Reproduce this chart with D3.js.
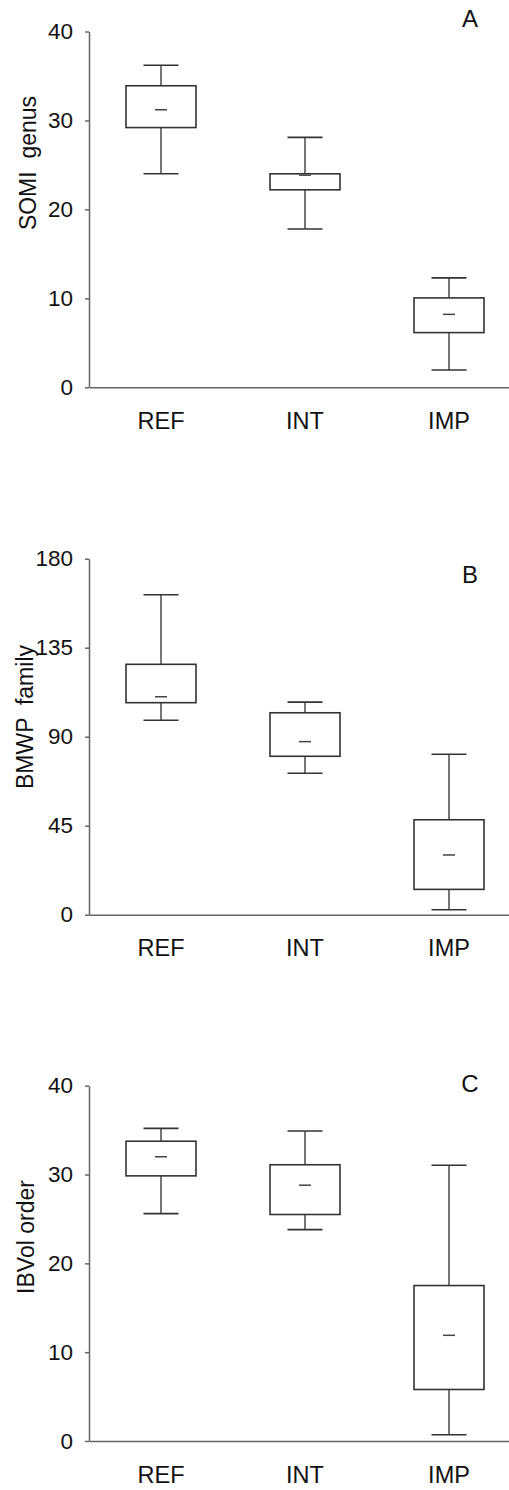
<!DOCTYPE html>
<html>
<head>
    <title>Box plots</title>
    <script src="https://cdnjs.cloudflare.com/ajax/libs/d3/7.8.5/d3.min.js"></script>
    <style>
        body { margin: 0; background: #fff; }
        svg { display: block; font-family: "Liberation Sans", Arial, sans-serif; }
    </style>
</head>
<body>
    <div id="chart"></div>

    <script>
        // data (whisker low, Q1, middle mark, Q3, whisker high)
        var categories = ["REF", "INT", "IMP"];

        var somiLow  = [24.0, 17.8, 1.95];
        var somiQ1   = [29.2, 22.2, 6.15];
        var somiMid  = [31.2, 23.85, 8.2];
        var somiQ3   = [33.9, 24.0, 10.05];
        var somiHigh = [36.2, 28.1, 12.3];
        var somiTicks = [0, 10, 20, 30, 40];

        var bmwpLow  = [98.3, 71.5, 2.5];
        var bmwpQ1   = [107.2, 80.1, 12.8];
        var bmwpMid  = [110.2, 87.5, 30.2];
        var bmwpQ3   = [126.6, 102.1, 48.0];
        var bmwpHigh = [161.8, 107.5, 81.1];
        var bmwpTicks = [0, 45, 90, 135, 180];

        var ibvolLow  = [25.6, 23.8, 0.7];
        var ibvolQ1   = [29.85, 25.5, 5.8];
        var ibvolMid  = [32.0, 28.8, 11.9];
        var ibvolQ3   = [33.75, 31.1, 17.5];
        var ibvolHigh = [35.2, 34.9, 31.05];
        var ibvolTicks = [0, 10, 20, 30, 40];

        var width = 509, height = 1490;
        var axisX = 89;

        var svg = d3.select("#chart")
            .append("svg")
            .attr("width", width)
            .attr("height", height);

        var x = d3.scaleBand()
            .domain(categories)
            .range([axisX, 521])
            .padding(0);

        var boxW = 70, capW = 35, midW = 12;

        function buildRows(low, q1, mid, q3, high) {
            return categories.map(function(c, i) {
                return { cat: c, low: low[i], q1: q1[i], mid: mid[i], q3: q3[i], high: high[i] };
            });
        }

        function drawPanel(opt) {
            var y = d3.scaleLinear()
                .domain([0, opt.ticks[opt.ticks.length - 1]])
                .range([opt.bottom, opt.top]);

            var g = svg.append("g");

            // y axis
            var yAxis = g.append("g")
                .attr("transform", "translate(" + axisX + ",0)")
                .call(d3.axisLeft(y)
                    .tickValues(opt.ticks)
                    .tickSize(4)
                    .tickSizeOuter(0)
                    .tickPadding(12));
            yAxis.selectAll("text")
                .style("font-size", "22.5px")
                .attr("fill", "#111");
            yAxis.selectAll("line, path")
                .attr("stroke", "#666")
                .attr("stroke-width", 1.5);

            // x axis
            var xAxis = g.append("g")
                .attr("transform", "translate(0," + y(0) + ")")
                .call(d3.axisBottom(x).tickSize(0).tickPadding(25).tickSizeOuter(0));
            xAxis.selectAll("text")
                .style("font-size", "23.5px")
                .attr("fill", "#111");
            xAxis.select("path")
                .attr("stroke", "#666")
                .attr("stroke-width", 1.5);

            var rows = buildRows(opt.low, opt.q1, opt.mid, opt.q3, opt.high);
            var box = g.selectAll(".box")
                .data(rows)
                .enter().append("g")
                .attr("class", "box")
                .attr("transform", function(d) { return "translate(" + (x(d.cat) + x.bandwidth() / 2) + ",0)"; });

            // whisker stems
            box.append("line")
                .attr("x1", 0).attr("x2", 0)
                .attr("y1", function(d) { return y(d.high); })
                .attr("y2", function(d) { return y(d.q3); })
                .attr("stroke", "#555").attr("stroke-width", 1.6);
            box.append("line")
                .attr("x1", 0).attr("x2", 0)
                .attr("y1", function(d) { return y(d.q1); })
                .attr("y2", function(d) { return y(d.low); })
                .attr("stroke", "#555").attr("stroke-width", 1.6);

            // caps
            box.append("line")
                .attr("x1", -capW / 2).attr("x2", capW / 2)
                .attr("y1", function(d) { return y(d.high); })
                .attr("y2", function(d) { return y(d.high); })
                .attr("stroke", "#333").attr("stroke-width", 1.6);
            box.append("line")
                .attr("x1", -capW / 2).attr("x2", capW / 2)
                .attr("y1", function(d) { return y(d.low); })
                .attr("y2", function(d) { return y(d.low); })
                .attr("stroke", "#333").attr("stroke-width", 1.6);

            // box
            box.append("rect")
                .attr("x", -boxW / 2)
                .attr("width", boxW)
                .attr("y", function(d) { return y(d.q3); })
                .attr("height", function(d) { return y(d.q1) - y(d.q3); })
                .attr("fill", "#fff")
                .attr("stroke", "#333")
                .attr("stroke-width", 1.6);

            // middle mark
            box.append("line")
                .attr("x1", -midW / 2).attr("x2", midW / 2)
                .attr("y1", function(d) { return y(d.mid); })
                .attr("y2", function(d) { return y(d.mid); })
                .attr("stroke", "#444").attr("stroke-width", 1.5);

            // axis title
            g.append("text")
                .attr("transform", "translate(" + opt.titleX + "," + opt.titleY + ") rotate(-90)")
                .attr("dy", "0.35em")
                .style("text-anchor", "middle")
                .style("font-size", "23px")
                .style("white-space", "pre")
                .attr("fill", "#111")
                .text(opt.title);

            // panel letter
            g.append("text")
                .attr("x", 470)
                .attr("y", opt.letterY)
                .style("text-anchor", "middle")
                .style("font-size", "24px")
                .attr("fill", "#111")
                .text(opt.letter);
        }

        drawPanel({ top: 31.5, bottom: 387.3, ticks: somiTicks, low: somiLow, q1: somiQ1, mid: somiMid, q3: somiQ3, high: somiHigh,
                    title: "SOMI  genus", titleX: 28, titleY: 163, letter: "A", letterY: 27 });
        drawPanel({ top: 558.7, bottom: 914.7, ticks: bmwpTicks, low: bmwpLow, q1: bmwpQ1, mid: bmwpMid, q3: bmwpQ3, high: bmwpHigh,
                    title: "BMWP  family", titleX: 25, titleY: 717, letter: "B", letterY: 583 });
        drawPanel({ top: 1085.7, bottom: 1441, ticks: ibvolTicks, low: ibvolLow, q1: ibvolQ1, mid: ibvolMid, q3: ibvolQ3, high: ibvolHigh,
                    title: "IBVol order", titleX: 26, titleY: 1237, letter: "C", letterY: 1092 });
    </script>
</body>
</html>
